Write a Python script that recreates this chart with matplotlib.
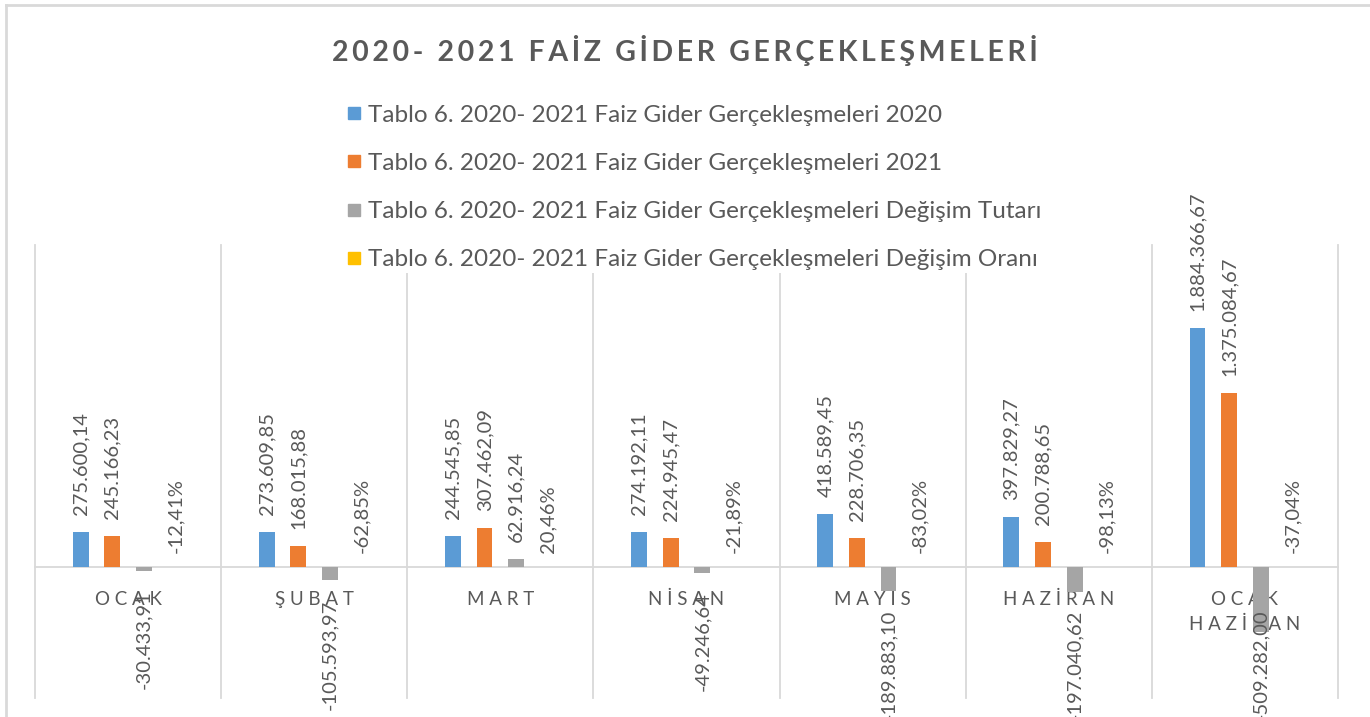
import matplotlib
matplotlib.use("Agg")
import matplotlib.pyplot as plt
from matplotlib.lines import Line2D
import numpy as np

plt.rcParams['font.family'] = ['Lato', 'DejaVu Sans']

# data
categories = ["OCAK", "ŞUBAT", "MART", "NİSAN", "MAYIS", "HAZİRAN", "OCAK\nHAZİRAN"]
gider_2020 = [275600.14, 273609.85, 244545.85, 274192.11, 418589.45, 397829.27, 1884366.67]
gider_2021 = [245166.23, 168015.88, 307462.09, 224945.47, 228706.35, 200788.65, 1375084.67]
degisim_tutari = [-30433.91, -105593.97, 62916.24, -49246.64, -189883.10, -197040.62, -509282.00]
degisim_orani = [-12.41, -62.85, 20.46, -21.89, -83.02, -98.13, -37.04]

series_names = [
    "Tablo 6. 2020- 2021 Faiz Gider Gerçekleşmeleri 2020",
    "Tablo 6. 2020- 2021 Faiz Gider Gerçekleşmeleri 2021",
    "Tablo 6. 2020- 2021 Faiz Gider Gerçekleşmeleri Değişim Tutarı",
    "Tablo 6. 2020- 2021 Faiz Gider Gerçekleşmeleri Değişim Oranı",
]
title = "2020- 2021 FAİZ GİDER GERÇEKLEŞMELERİ"
colors = ['#5B9BD5', '#ED7D31', '#A5A5A5', '#FFC000']
text_color = '#595959'
grid_color = '#D9D9D9'


def tr_number(v):
    s = f"{v:,.2f}"
    return s.replace(",", "_").replace(".", ",").replace("_", ".")


def spaced(label):
    return "\n".join(" ".join(list(line)) for line in label.split("\n"))


fig = plt.figure(figsize=(13.7, 7.17), dpi=100)
ax = fig.add_axes([35 / 1370, 19 / 717, 1303 / 1370, 453 / 717])

x = np.arange(len(categories))
slot = 0.17
bw = 0.085
offsets = np.array([-1.5, -0.5, 0.5, 1.5]) * slot

values = [gider_2020, gider_2021, degisim_tutari, [p / 100 for p in degisim_orani]]
for i, vals in enumerate(values):
    ax.bar(x + offsets[i], vals, bw, color=colors[i], label=series_names[i], zorder=3)

# value labels
neg_labels = []
for i, vals in enumerate([gider_2020, gider_2021, degisim_tutari]):
    for xi, v in zip(x + offsets[i], vals):
        if v >= 0:
            ax.annotate(tr_number(v), (xi, v), xytext=(0, 17), textcoords='offset pixels',
                        rotation=90, ha='center', va='bottom', fontsize=14.5,
                        color=text_color, annotation_clip=False, zorder=4)
        else:
            a = ax.annotate(tr_number(v), (xi, v), xytext=(0, -19), textcoords='offset pixels',
                            rotation=90, ha='center', va='top', fontsize=14.5,
                            color=text_color, annotation_clip=False, zorder=4)
            neg_labels.append(a)

for xi, p in zip(x + offsets[3], degisim_orani):
    ax.annotate(f"{p:.2f}%".replace(".", ","), (xi, 0), xytext=(0, 14),
                textcoords='offset pixels', rotation=90, ha='center', va='bottom',
                fontsize=14.5, color=text_color, annotation_clip=False, zorder=4)

ax.set_xlim(-0.5, len(categories) - 0.5)
ax.set_ylim(-1033000, 2539000)

# category separators
for b in np.arange(-0.5, len(categories), 1.0):
    ax.axvline(b, color=grid_color, lw=1.3, zorder=1, clip_on=False)

for s in ['top', 'left', 'right']:
    ax.spines[s].set_visible(False)
ax.spines['bottom'].set_position(('data', 0))
ax.spines['bottom'].set_color(grid_color)
ax.spines['bottom'].set_linewidth(1.3)
ax.set_yticks([])
ax.set_xticks(x)
ax.set_xticklabels([spaced(c) for c in categories], fontsize=13.5, color=text_color,
                   linespacing=1.6)
ax.tick_params(axis='x', length=0, pad=17)

fig.text(0.5, 1 - 51 / 717, "\u2009".join(title), ha='center', va='center',
         fontsize=20.5, fontweight='bold', color=text_color)

handles = [Line2D([], [], marker='s', ls='', markersize=8, color=c) for c in colors]
leg = fig.legend(handles, series_names, loc='upper left', bbox_to_anchor=(332 / 1370, 1 - 90 / 717),
                 frameon=True, facecolor='white', edgecolor='none', framealpha=1,
                 fontsize=17.5, labelspacing=1.12, handlelength=0.6, handletextpad=0.3,
                 borderpad=0.1)
for t in leg.get_texts():
    t.set_color(text_color)

# faint outer border
fig.add_artist(Line2D([6 / 1370, 6 / 1370], [0, 1 - 5 / 717], color='#D9D9D9', lw=2))
fig.add_artist(Line2D([6 / 1370, 1], [1 - 5 / 717, 1 - 5 / 717], color='#D9D9D9', lw=2))

# keep negative labels inside the chart area, like the spreadsheet does
fig.canvas.draw()
renderer = fig.canvas.get_renderer()
for a in neg_labels:
    bb = a.get_window_extent(renderer)
    if bb.y0 < -3:
        dx, dy = a.xyann
        a.xyann = (dx, dy + (-3 - bb.y0))

fig.savefig("out.png", dpi=100, facecolor='white')
